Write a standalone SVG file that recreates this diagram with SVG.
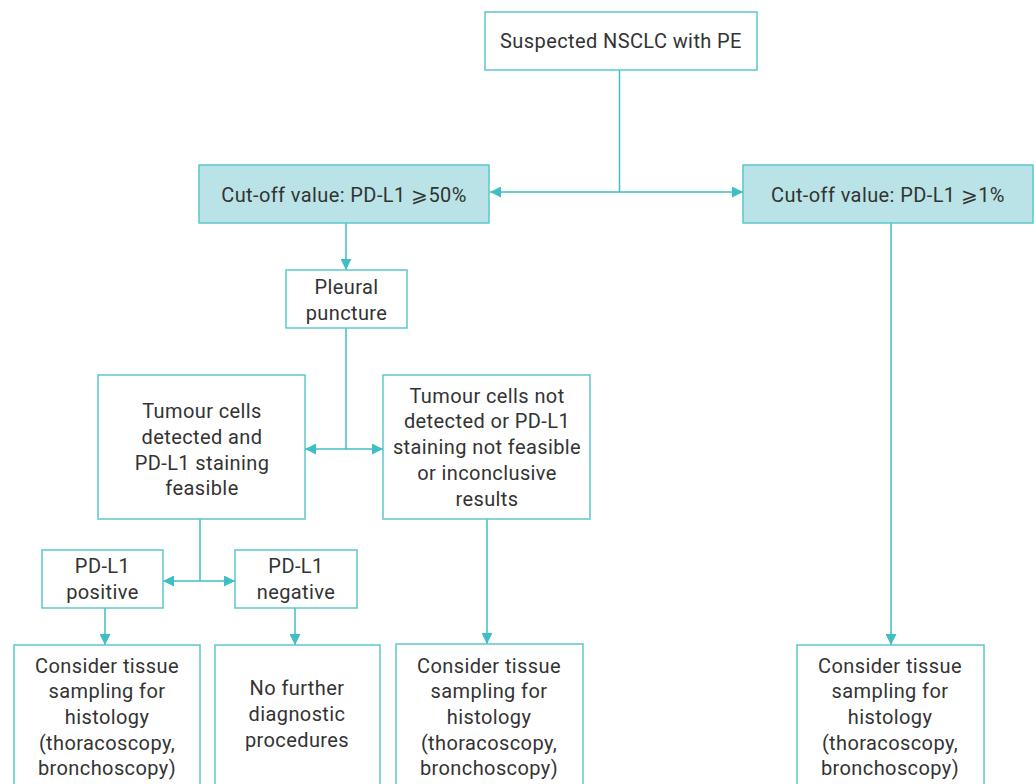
<svg xmlns="http://www.w3.org/2000/svg" width="1036" height="784" viewBox="0 0 1036 784">
<style>
.box{fill:#fff;stroke:#5cc7cc;stroke-width:1.5}
.hi{fill:#b9e3e6;stroke:#5cc7cc;stroke-width:1.5}
.t{font-family:Roboto,"Noto Sans",sans-serif;font-size:20px;letter-spacing:0.4px;fill:#333;text-anchor:middle;dominant-baseline:central}
.ln{fill:none;stroke:#3fbec3;stroke-width:1.5}
</style>
<defs>
<marker id="ah" viewBox="0 0 10 10" refX="10" refY="5" markerWidth="11" markerHeight="11" markerUnits="userSpaceOnUse" orient="auto-start-reverse">
<path d="M0,0 L10,5 L0,10 Z" fill="#3fbec3"/>
</marker>
</defs>
<rect width="1036" height="784" fill="#fff"/>
<g id="connectors">
<path class="ln" d="M619.5,70 V192"/>
<path class="ln" d="M490,192 H743" marker-start="url(#ah)" marker-end="url(#ah)"/>
<path class="ln" d="M346,223 V270" marker-end="url(#ah)"/>
<path class="ln" d="M346,328 V449"/>
<path class="ln" d="M305,449 H383" marker-start="url(#ah)" marker-end="url(#ah)"/>
<path class="ln" d="M200,519 V581"/>
<path class="ln" d="M163,581 H235" marker-start="url(#ah)" marker-end="url(#ah)"/>
<path class="ln" d="M105,608 V645" marker-end="url(#ah)"/>
<path class="ln" d="M295,608 V645" marker-end="url(#ah)"/>
<path class="ln" d="M487,519 V644" marker-end="url(#ah)"/>
<path class="ln" d="M891,223 V645" marker-end="url(#ah)"/>
</g>
<g id="n-start"><rect class="box" x="485" y="12" width="272" height="58"/><text class="t" x="621" y="41">Suspected NSCLC with PE</text></g>
<g id="n-cut50"><rect class="hi" x="199" y="165" width="290" height="58"/><text class="t" x="344" y="195">Cut-off value: PD-L1 ⩾50%</text></g>
<g id="n-cut1"><rect class="hi" x="743" y="165" width="290" height="58"/><text class="t" x="888" y="195">Cut-off value: PD-L1 ⩾1%</text></g>
<g id="n-pleural"><rect class="box" x="286" y="270" width="121" height="58"/><text class="t" x="346.5"><tspan x="346.5" y="287">Pleural</tspan><tspan x="346.5" y="313">puncture</tspan></text></g>
<g id="n-detected"><rect class="box" x="98" y="375" width="207" height="144"/><text class="t"><tspan x="202" y="411">Tumour cells</tspan><tspan x="202" y="437">detected and</tspan><tspan x="202" y="463">PD-L1 staining</tspan><tspan x="202" y="488">feasible</tspan></text></g>
<g id="n-notdetected"><rect class="box" x="383" y="375" width="207" height="144"/><text class="t"><tspan x="487" y="396">Tumour cells not</tspan><tspan x="487" y="421">detected or PD-L1</tspan><tspan x="487" y="447">staining not feasible</tspan><tspan x="487" y="473">or inconclusive</tspan><tspan x="487" y="499">results</tspan></text></g>
<g id="n-pos"><rect class="box" x="42" y="550" width="121" height="58"/><text class="t"><tspan x="102.5" y="566">PD-L1</tspan><tspan x="102.5" y="592">positive</tspan></text></g>
<g id="n-neg"><rect class="box" x="235" y="550" width="122" height="58"/><text class="t"><tspan x="296" y="566">PD-L1</tspan><tspan x="296" y="592">negative</tspan></text></g>
<g id="n-tissue1"><rect class="box" x="14" y="645" width="186" height="150"/><text class="t"><tspan x="107" y="666">Consider tissue</tspan><tspan x="107" y="691">sampling for</tspan><tspan x="107" y="717">histology</tspan><tspan x="107" y="743">(thoracoscopy,</tspan><tspan x="107" y="768">bronchoscopy)</tspan></text></g>
<g id="n-nofurther"><rect class="box" x="215" y="645" width="165" height="150"/><text class="t"><tspan x="297" y="688">No further</tspan><tspan x="297" y="714">diagnostic</tspan><tspan x="297" y="740">procedures</tspan></text></g>
<g id="n-tissue2"><rect class="box" x="396" y="644" width="187" height="150"/><text class="t"><tspan x="489" y="666">Consider tissue</tspan><tspan x="489" y="691">sampling for</tspan><tspan x="489" y="717">histology</tspan><tspan x="489" y="743">(thoracoscopy,</tspan><tspan x="489" y="768">bronchoscopy)</tspan></text></g>
<g id="n-tissue3"><rect class="box" x="797" y="645" width="187" height="150"/><text class="t"><tspan x="890" y="666">Consider tissue</tspan><tspan x="890" y="691">sampling for</tspan><tspan x="890" y="717">histology</tspan><tspan x="890" y="743">(thoracoscopy,</tspan><tspan x="890" y="768">bronchoscopy)</tspan></text></g>
</svg>
